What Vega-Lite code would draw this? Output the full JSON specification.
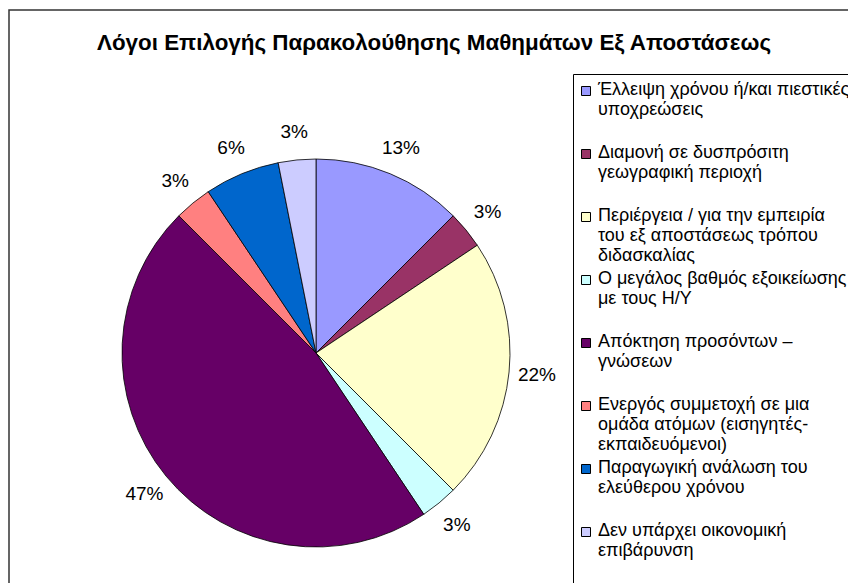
{
  "$schema": "https://vega.github.io/schema/vega-lite/v6.json",
  "width": 850,
  "height": 600,
  "autosize": {"type": "none"},
  "padding": {"left": 9, "top": 10, "right": 0, "bottom": 0},
  "background": "white",
  "title": {
    "text": "Λόγοι Επιλογής Παρακολούθησης Μαθημάτων Εξ Αποστάσεως",
    "font": "Liberation Sans",
    "fontSize": 22.4,
    "fontWeight": "bold",
    "color": "black",
    "anchor": "middle",
    "baseline": "alphabetic",
    "offset": -63
  },
  "config": {"view": {"stroke": null}},
  "data": {
    "values": [
      {"idx": 1, "reason": "Έλλειψη χρόνου ή/και πιεστικές\nυποχρεώσεις", "count": 4, "share": 0.13},
      {"idx": 2, "reason": "Διαμονή σε δυσπρόσιτη\nγεωγραφική περιοχή", "count": 1, "share": 0.03},
      {"idx": 3, "reason": "Περιέργεια / για την εμπειρία\nτου εξ αποστάσεως τρόπου\nδιδασκαλίας", "count": 7, "share": 0.22},
      {"idx": 4, "reason": "Ο μεγάλος βαθμός εξοικείωσης\nμε τους Η/Υ", "count": 1, "share": 0.03},
      {"idx": 5, "reason": "Απόκτηση προσόντων –\nγνώσεων", "count": 15, "share": 0.47},
      {"idx": 6, "reason": "Ενεργός συμμετοχή σε μια\nομάδα ατόμων (εισηγητές-\nεκπαιδευόμενοι)", "count": 1, "share": 0.03},
      {"idx": 7, "reason": "Παραγωγική ανάλωση του\nελεύθερου χρόνου", "count": 2, "share": 0.06},
      {"idx": 8, "reason": "Δεν υπάρχει οικονομική\nεπιβάρυνση", "count": 1, "share": 0.03}
    ]
  },
  "layer": [
    {
      "data": {"values": [{"frame": "chart area"}]},
      "mark": {"type": "rect", "filled": false, "stroke": "#333333", "strokeWidth": 1.5},
      "encoding": {}
    },
    {
      "mark": {"type": "arc", "x": 307, "y": 343, "outerRadius": 194, "stroke": "black", "strokeWidth": 0.8},
      "encoding": {
        "theta": {"field": "count", "type": "quantitative", "stack": true},
        "order": {"field": "idx", "type": "quantitative"},
        "color": {
          "field": "reason",
          "type": "nominal",
          "scale": {
            "domain": [
              "Έλλειψη χρόνου ή/και πιεστικές\nυποχρεώσεις",
              "Διαμονή σε δυσπρόσιτη\nγεωγραφική περιοχή",
              "Περιέργεια / για την εμπειρία\nτου εξ αποστάσεως τρόπου\nδιδασκαλίας",
              "Ο μεγάλος βαθμός εξοικείωσης\nμε τους Η/Υ",
              "Απόκτηση προσόντων –\nγνώσεων",
              "Ενεργός συμμετοχή σε μια\nομάδα ατόμων (εισηγητές-\nεκπαιδευόμενοι)",
              "Παραγωγική ανάλωση του\nελεύθερου χρόνου",
              "Δεν υπάρχει οικονομική\nεπιβάρυνση"
            ],
            "range": ["#9999FF", "#993366", "#FFFFCC", "#CCFFFF", "#660066", "#FF8080", "#0066CC", "#CCCCFF"]
          },
          "legend": {
            "orient": "none",
            "legendX": 564,
            "legendY": 64,
            "title": null,
            "strokeColor": "black",
            "fillColor": "white",
            "padding": 8,
            "symbolOffset": -4,
            "labelFont": "Liberation Sans",
            "labelFontSize": 18,
            "labelColor": "black",
            "labelLimit": 600,
            "labelOffset": 3,
            "labelBaseline": "top",
            "labelExpr": "split(datum.label + (length(split(datum.label, '\\n')) < 3 ? '\\n ' : ''), '\\n')",
            "symbolType": "square",
            "symbolSize": 81,
            "symbolStrokeColor": "black",
            "symbolStrokeWidth": 1,
            "rowPadding": 5,
            "encode": {"labels": {"update": {"dy": {"value": -10}}}}
          }
        }
      }
    },
    {
      "mark": {"type": "text", "x": 307, "y": 343, "radius": 222, "font": "Liberation Sans", "fontSize": 19, "color": "black"},
      "encoding": {
        "theta": {"field": "count", "type": "quantitative", "stack": true},
        "order": {"field": "idx", "type": "quantitative"},
        "detail": {"field": "reason", "type": "nominal"},
        "text": {"field": "share", "type": "quantitative", "format": ".0%"}
      }
    }
  ]
}
